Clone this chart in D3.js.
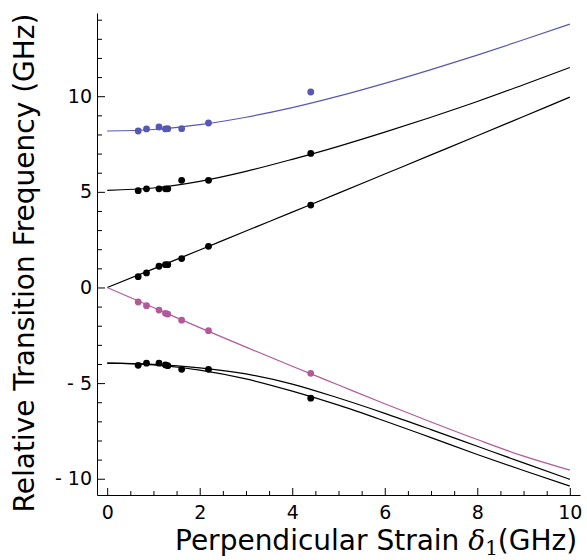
<!DOCTYPE html>
<html>
<head>
<meta charset="utf-8">
<script src="https://cdn.jsdelivr.net/npm/d3@7"></script>
<style>
  body { margin: 0; background: #fff; }
  text { font-family: "DejaVu Sans", sans-serif; }
</style>
</head>
<body>
<div id="chart"></div>
<script>
// fitted curves at whole-number strain
let curveX = [0, 1, 2, 3, 4, 5, 6, 7, 8, 9, 10]
let blueLine = [8.18, 8.26, 8.51, 8.9, 9.4, 10.0, 10.67, 11.39, 12.15, 12.95, 13.77]
let upperLine = [5.08, 5.2, 5.55, 6.07, 6.7, 7.38, 8.12, 8.9, 9.72, 10.6, 11.5]
let middleLine = [0, 0.97, 1.96, 2.95, 3.94, 4.93, 5.93, 6.93, 7.93, 8.94, 9.95]
let pinkLine = [0, -1.05, -2.1, -3.12, -4.12, -5.1, -6.08, -7.03, -7.95, -8.82, -9.55]
let lowerLineA = [-3.96, -4.02, -4.2, -4.52, -5.05, -5.78, -6.58, -7.43, -8.3, -9.17, -10.03]
let lowerLineB = [-3.96, -4.05, -4.32, -4.78, -5.42, -6.15, -6.98, -7.85, -8.73, -9.57, -10.38]

// measured points
let dotX = [0.67, 0.85, 1.12, 1.26, 1.31, 1.61, 2.19, 4.4]
let blueDots = [8.18, 8.29, 8.39, 8.29, 8.30, 8.30, 8.60, 10.22]
let upperDots = [5.06, 5.16, 5.16, 5.16, 5.16, 5.60, 5.60, 7.01]
let middleDots = [0.565, 0.76, 1.11, 1.19, 1.19, 1.51, 2.15, 4.31]
let pinkDots = [-0.76, -0.95, -1.18, -1.35, -1.39, -1.71, -2.26, -4.49]
let lowerDots = [-4.07, -3.96, -3.96, -4.05, -4.09, -4.28, -4.28, -5.79]

let xMajor = [0, 2, 4, 6, 8, 10]
let yMajor = [-10, -5, 0, 5, 10]

let width = 587
    height = 560

let blue = '#5757b4'
    pink = '#b25a98'

let svg = d3.select('#chart')
  .append('svg')
    .attr('width', width)
    .attr('height', height)

let x = d3.scaleLinear().domain([-0.22, 10.22]).range([97, 580])
let y = d3.scaleLinear().domain([-10.85, 14.35]).range([495, 13])

// axes, ticks point into the plot
let xMinor = d3.range(0, 10.01, 0.5).filter(d => d % 2 !== 0)
let yMinor = d3.range(-10, 15, 1).filter(d => d % 5 !== 0)

svg.append('g')
  .attr('transform', 'translate(0,495)')
  .call(d3.axisBottom(x).tickValues(xMinor).tickSize(-4).tickFormat(''))
  .call(g => g.select('.domain').remove())

svg.append('g')
  .attr('transform', 'translate(97,0)')
  .call(d3.axisLeft(y).tickValues(yMinor).tickSize(-5).tickFormat(''))
  .call(g => g.select('.domain').remove())

svg.append('g')
  .attr('transform', 'translate(0,495)')
  .call(d3.axisBottom(x).tickValues(xMajor).tickSize(-7).tickSizeOuter(0).tickPadding(11))
  .call(g => g.selectAll('text').attr('font-size', 19).attr('font-family', 'DejaVu Sans'))

svg.append('g')
  .attr('transform', 'translate(97,0)')
  .call(d3.axisLeft(y).tickValues(yMajor).tickSize(-8).tickSizeOuter(0).tickPadding(5)
    .tickFormat(d => d < 0 ? '- ' + (-d) : d))
  .call(g => g.selectAll('text').attr('font-size', 19).attr('font-family', 'DejaVu Sans'))

// curves
let line = d3.line()
  .x((d, i) => x(curveX[i]))
  .y(d => y(d))
  .curve(d3.curveMonotoneX)

let curves = [
  {v: blueLine, c: blue},
  {v: upperLine, c: '#000'},
  {v: middleLine, c: '#000'},
  {v: pinkLine, c: pink},
  {v: lowerLineA, c: '#000'},
  {v: lowerLineB, c: '#000'}
]

svg.selectAll('allCurves')
  .data(curves)
  .enter()
  .append('path')
    .attr('d', d => line(d.v))
    .attr('fill', 'none')
    .attr('stroke', d => d.c)
    .attr('stroke-width', 1.2)

// dots
let dotSets = [
  {v: blueDots, c: blue},
  {v: upperDots, c: '#000'},
  {v: middleDots, c: '#000'},
  {v: pinkDots, c: pink},
  {v: lowerDots, c: '#000'}
]

dotSets.forEach(s => {
  svg.selectAll(null)
    .data(s.v)
    .enter()
    .append('circle')
      .attr('cx', (d, i) => x(dotX[i]))
      .attr('cy', d => y(d))
      .attr('r', 3.4)
      .attr('fill', s.c)
})

// axis titles
let xt = svg.append('text')
  .attr('x', 175)
  .attr('y', 550)
  .attr('font-size', 28)
  .attr('fill', '#000')
xt.append('tspan').text('Perpendicular Strain ')
xt.append('tspan').attr('font-family', 'DejaVu Serif').attr('font-style', 'italic').text('δ')
xt.append('tspan').attr('font-family', 'DejaVu Serif').attr('font-size', 20).attr('dy', 5).text('1')
xt.append('tspan').attr('dy', -5).text('(GHz)')

svg.append('text')
  .attr('transform', 'translate(34,263) rotate(-90)')
  .attr('text-anchor', 'middle')
  .attr('font-size', 28)
  .attr('fill', '#000')
  .text('Relative Transition Frequency (GHz)')
</script>
</body>
</html>
